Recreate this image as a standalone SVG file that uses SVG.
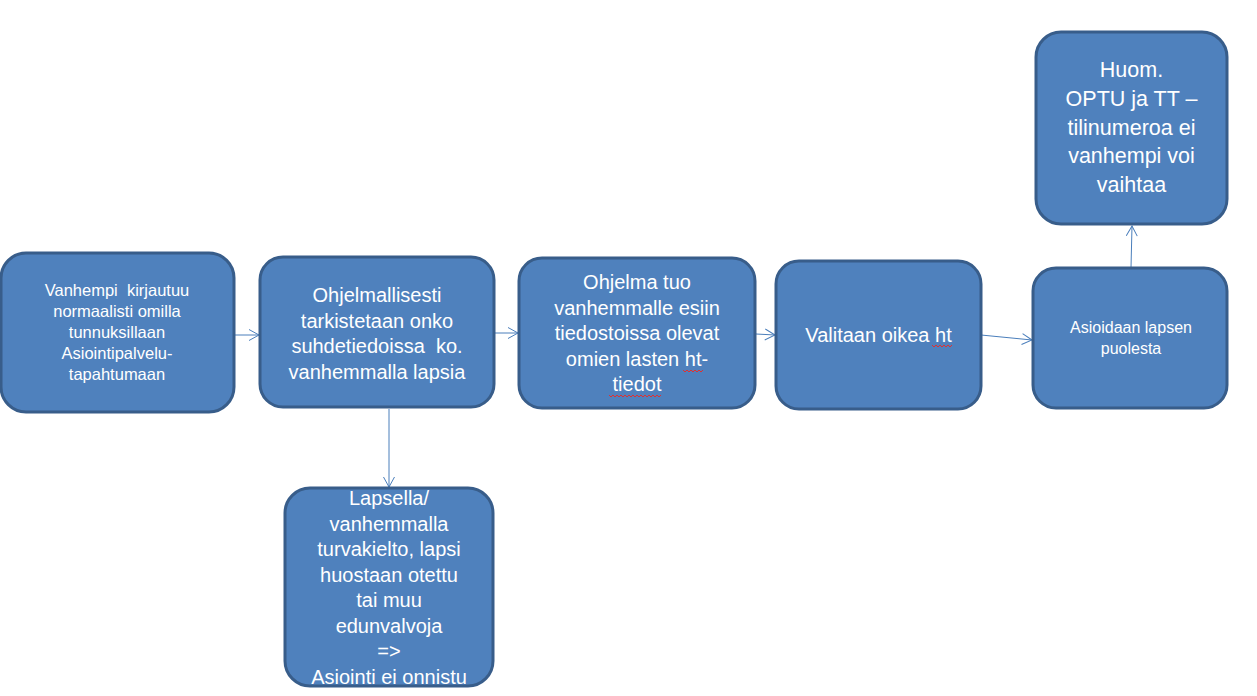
<svg xmlns="http://www.w3.org/2000/svg" width="1257" height="696" viewBox="0 0 1257 696">
<style>
.box{fill:#4F81BD;stroke:#385D8A;stroke-width:3}
.t{font-family:"Liberation Sans",Arial,sans-serif;fill:#FFFFFF;text-anchor:middle;white-space:pre}
.c{stroke:#4A7EBB;stroke-width:1;fill:none}
.sq{stroke:#E03030;stroke-width:1;fill:none}
</style>
<defs>
<marker id="arr" markerUnits="userSpaceOnUse" markerWidth="14" markerHeight="14" refX="11" refY="6" orient="auto">
<path d="M1,0.5 L11,6 L1,11.5" stroke="#4A7EBB" stroke-width="1" fill="none"/>
</marker>
</defs>
<rect width="1257" height="696" fill="#FFFFFF"/>
<g id="connectors">
<line class="c" x1="235" y1="335" x2="259" y2="335" marker-end="url(#arr)"/>
<line class="c" x1="494" y1="333" x2="518" y2="333" marker-end="url(#arr)"/>
<line class="c" x1="756" y1="334" x2="775" y2="335" marker-end="url(#arr)"/>
<line class="c" x1="981" y1="335" x2="1032" y2="340" marker-end="url(#arr)"/>
<line class="c" x1="1131" y1="268" x2="1132" y2="226" marker-end="url(#arr)"/>
<line class="c" x1="389" y1="409" x2="389" y2="487" marker-end="url(#arr)"/>
</g>
<g id="node1">
<rect class="box" x="1" y="253" width="233" height="159" rx="25"/>
<text class="t" font-size="16.5" xml:space="preserve"><tspan x="117" y="296">Vanhempi  kirjautuu</tspan><tspan x="117" y="317">normaalisti omilla</tspan><tspan x="117" y="338">tunnuksillaan</tspan><tspan x="117" y="359">Asiointipalvelu-</tspan><tspan x="117" y="380">tapahtumaan</tspan></text>
</g>
<g id="node2">
<rect class="box" x="260" y="257" width="234" height="150" rx="23"/>
<text class="t" font-size="20" xml:space="preserve"><tspan x="377" y="302">Ohjelmallisesti</tspan><tspan x="377" y="327.5">tarkistetaan onko</tspan><tspan x="377" y="353">suhdetiedoissa  ko.</tspan><tspan x="377" y="378.5">vanhemmalla lapsia</tspan></text>
</g>
<g id="node3">
<rect class="box" x="519" y="258" width="236" height="150" rx="23"/>
<text class="t" font-size="20"><tspan x="637" y="289">Ohjelma tuo</tspan><tspan x="637" y="315">vanhemmalle esiin</tspan><tspan x="637" y="340">tiedostoissa olevat</tspan><tspan x="637" y="366">omien lasten ht-</tspan><tspan x="637" y="391">tiedot</tspan></text>
<path class="sq" d="M683,370 l2,2 l2,-2 l2,2 l2,-2 l2,2 l2,-2 l2,2 l2,-2 l2,2 l2,-2"/>
<path class="sq" d="M609,395 l2,2 l2,-2 l2,2 l2,-2 l2,2 l2,-2 l2,2 l2,-2 l2,2 l2,-2 l2,2 l2,-2 l2,2 l2,-2 l2,2 l2,-2 l2,2 l2,-2 l2,2 l2,-2 l2,2 l2,-2 l2,2 l2,-2 l2,2 l2,-2"/>
</g>
<g id="node4">
<rect class="box" x="776" y="261" width="205" height="148" rx="23"/>
<text class="t" font-size="20" x="878.5" y="342">Valitaan oikea ht</text>
<path class="sq" d="M932,345 l2,2 l2,-2 l2,2 l2,-2 l2,2 l2,-2 l2,2 l2,-2 l2,2 l2,-2"/>
</g>
<g id="node5">
<rect class="box" x="1033" y="268" width="194" height="140" rx="23"/>
<text class="t" font-size="16"><tspan x="1131" y="333">Asioidaan lapsen</tspan><tspan x="1131" y="354">puolesta</tspan></text>
</g>
<g id="node6">
<rect class="box" x="1036" y="32" width="191" height="192" rx="25"/>
<text class="t" font-size="21.5"><tspan x="1131.5" y="77">Huom.</tspan><tspan x="1131.5" y="106">OPTU ja TT –</tspan><tspan x="1131.5" y="134.5">tilinumeroa ei</tspan><tspan x="1131.5" y="163">vanhempi voi</tspan><tspan x="1131.5" y="191.5">vaihtaa</tspan></text>
</g>
<g id="node7">
<rect class="box" x="285" y="488" width="208" height="198" rx="25"/>
<text class="t" font-size="20"><tspan x="389" y="505">Lapsella/</tspan><tspan x="389" y="530.5">vanhemmalla</tspan><tspan x="389" y="556">turvakielto, lapsi</tspan><tspan x="389" y="581.5">huostaan otettu</tspan><tspan x="389" y="607">tai muu</tspan><tspan x="389" y="632.5">edunvalvoja</tspan><tspan x="389" y="658">=&gt;</tspan><tspan x="389" y="683.5">Asiointi ei onnistu</tspan></text>
</g>
</svg>
